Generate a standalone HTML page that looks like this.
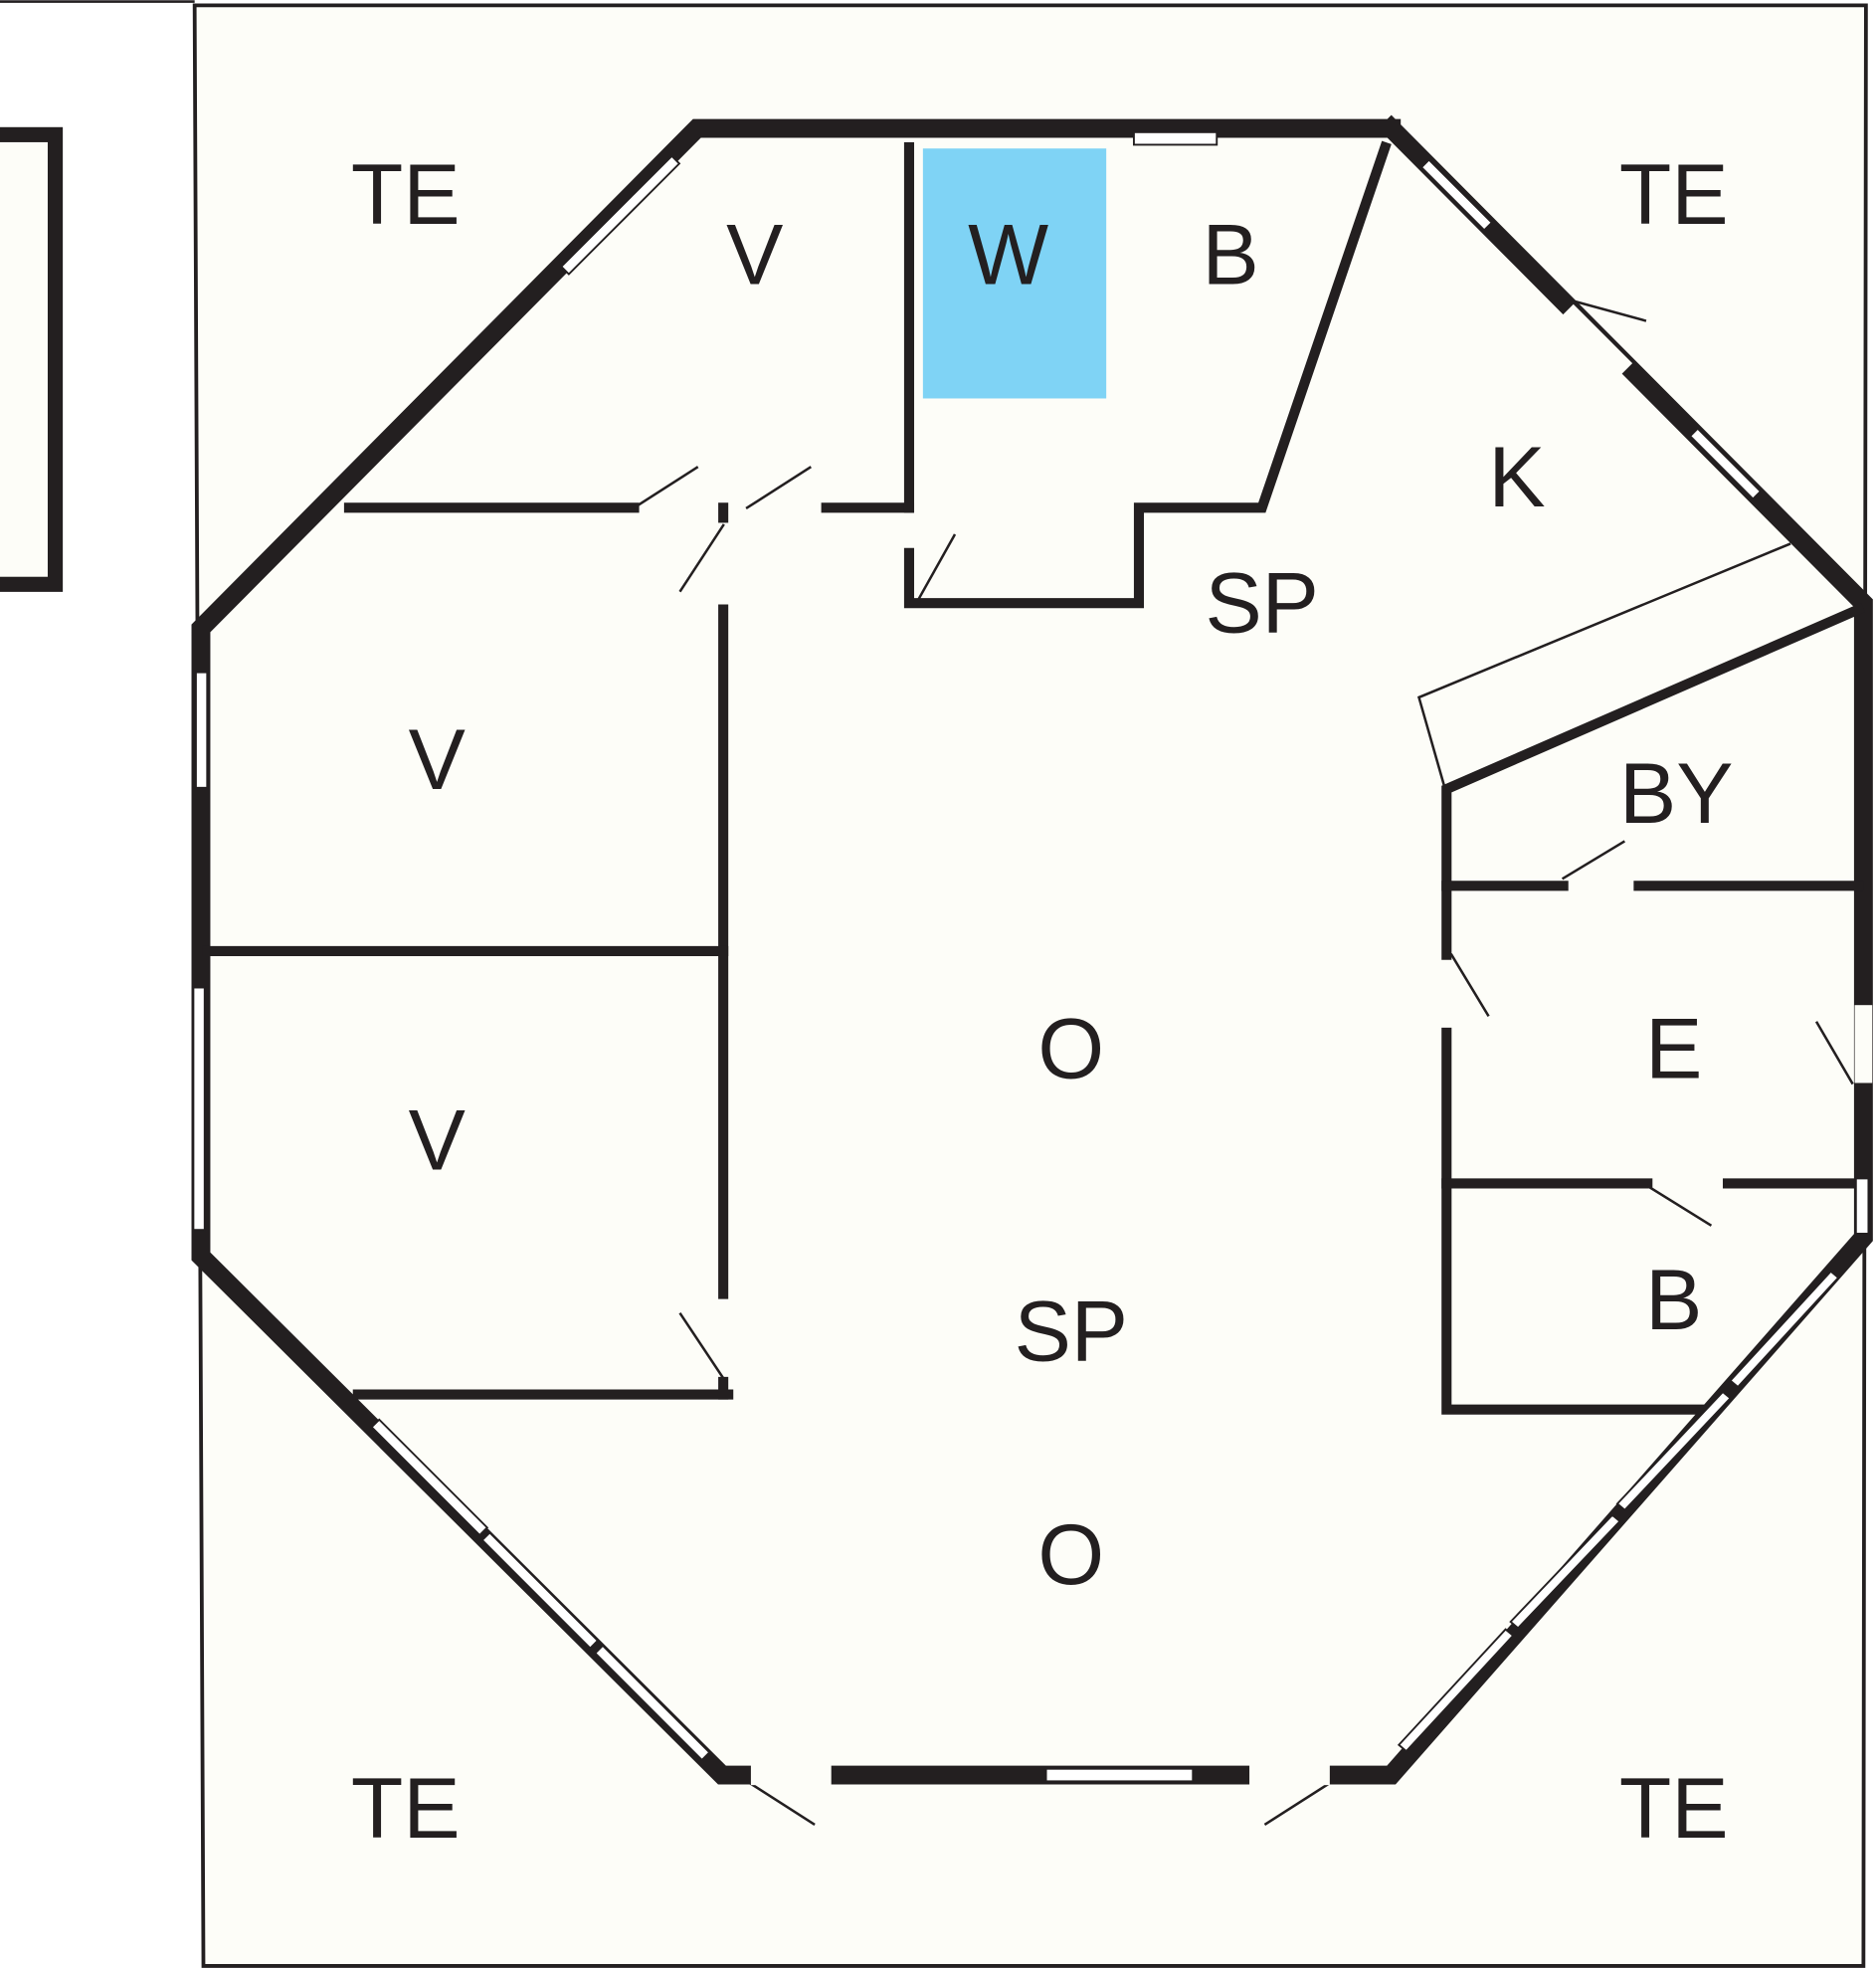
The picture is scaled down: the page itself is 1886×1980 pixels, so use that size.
<!DOCTYPE html>
<html><head><meta charset="utf-8"><style>
html,body{margin:0;padding:0;background:#fff;}
svg{display:block;}
text{font-family:"Liberation Sans",sans-serif;font-size:68px;fill:#231f20;text-anchor:middle;}
</style></head><body>
<svg width="1886" height="1980" viewBox="0 0 1494 1568" xmlns="http://www.w3.org/2000/svg">
<rect width="1494" height="1568" fill="#fff"/>
<line x1="0" y1="1" x2="155" y2="1" stroke="#231f20" stroke-width="2"/>
<polygon points="155,4 1486,4 1484,1565 162,1565" fill="#fdfdf8" stroke="#231f20" stroke-width="3"/>
<rect x="-10" y="107" width="54" height="358" fill="#fdfdf8" stroke="#231f20" stroke-width="12"/>
<rect x="735" y="118" width="146" height="199" fill="#7fd3f5"/>
<g stroke="#231f20" fill="none" stroke-linecap="square">
<!-- outer octagon -->
<polyline stroke-width="15" points="1108,102 555,102 160,500 160,1000 575,1413 1108,1413 1484,985 1484,480 1108,102"/>
<!-- interior walls -->
<g stroke-width="8">
<line x1="278" y1="404" x2="505" y2="404"/>
<line x1="658" y1="404" x2="724" y2="404"/>
<line x1="724" y1="117" x2="724" y2="404"/>
<polyline points="724,440 724,480 907,480 907,404 1005,404 1103,117"/>
<line x1="576" y1="404" x2="576" y2="412"/>
<line x1="576" y1="485" x2="576" y2="1030"/>
<line x1="576" y1="1100" x2="576" y2="1110"/>
<line x1="165" y1="757" x2="576" y2="757"/>
<line x1="285" y1="1110" x2="580" y2="1110"/>
<polyline points="1152,760 1152,628 1480,485"/>
<polyline points="1152,822 1152,1122 1355,1122"/>
<line x1="1152" y1="705" x2="1245" y2="705"/>
<line x1="1305" y1="705" x2="1480" y2="705"/>
<line x1="1152" y1="942" x2="1312" y2="942"/>
<line x1="1376" y1="942" x2="1480" y2="942"/>
</g>
<!-- thin lines -->
<g stroke-width="2">
<polyline points="1425,433 1130,555 1150,625"/>
<line x1="505" y1="404" x2="555" y2="372"/>
<line x1="595" y1="404" x2="645" y2="372"/>
<line x1="576" y1="418" x2="542" y2="470"/>
<line x1="732" y1="476" x2="760" y2="426"/>
<line x1="576" y1="1097" x2="542" y2="1046"/>
<line x1="1255" y1="240" x2="1310" y2="255"/>
<line x1="1245" y1="699" x2="1293" y2="670"/>
<line x1="1156" y1="760" x2="1185" y2="808"/>
<line x1="1475" y1="862" x2="1447" y2="814"/>
<line x1="1312" y1="944" x2="1362" y2="975"/>
<line x1="598" y1="1420" x2="648" y2="1452"/>
<line x1="1058" y1="1420" x2="1008" y2="1452"/>
</g>
</g>
<!-- gaps in outer walls (doors) -->
<g fill="#fdfdf8">
<polygon points="1243,252 1253,242 1300,289 1290,299"/>
<rect x="1477" y="800" width="14" height="62"/>
<rect x="598" y="1405" width="64" height="16"/>
<rect x="995" y="1405" width="64" height="16"/>
</g>
<!-- windows -->
<g fill="#fff" stroke="#231f20" stroke-width="1.5">
<rect x="903" y="105" width="66" height="10"/>
<rect x="156" y="535" width="9" height="92"/>
<rect x="154" y="786" width="9" height="193"/>
<rect x="1478" y="938" width="10" height="44"/>
<rect x="833" y="1408" width="117" height="10"/>
<polygon points="447,212 535,124 541,130 453,218"/>
<polygon points="1132,133 1138,127 1188,177 1182,183"/>
<polygon points="1346,347 1352,341 1402,391 1396,397"/>
<polygon points="296,1136 302,1130 388,1216 382,1222"/>
<polygon points="384,1226 390,1220 476,1306 470,1312"/>
<polygon points="474,1316 480,1310 565,1395 559,1401"/>
<polygon points="1120,1394 1114,1389 1199,1297 1205,1302"/>
<polygon points="1209,1296 1203,1291 1284,1206 1290,1211"/>
<polygon points="1294,1202 1288,1197 1372,1108 1378,1113"/>
<polygon points="1384,1104 1378,1099 1458,1012 1464,1017"/>
</g>
<g>
<text x="323" y="178">TE</text>
<text x="601" y="226">V</text>
<text x="803" y="226">W</text>
<text x="980" y="226">B</text>
<text x="1333" y="178">TE</text>
<text x="1208" y="403">K</text>
<text x="1005" y="503">SP</text>
<text x="348" y="628">V</text>
<text x="1335" y="655">BY</text>
<text x="853" y="858">O</text>
<text x="1333" y="858">E</text>
<text x="348" y="931">V</text>
<text x="853" y="1083">SP</text>
<text x="1333" y="1058">B</text>
<text x="853" y="1261">O</text>
<text x="323" y="1463">TE</text>
<text x="1333" y="1463">TE</text>
</g>
</svg>
</body></html>
